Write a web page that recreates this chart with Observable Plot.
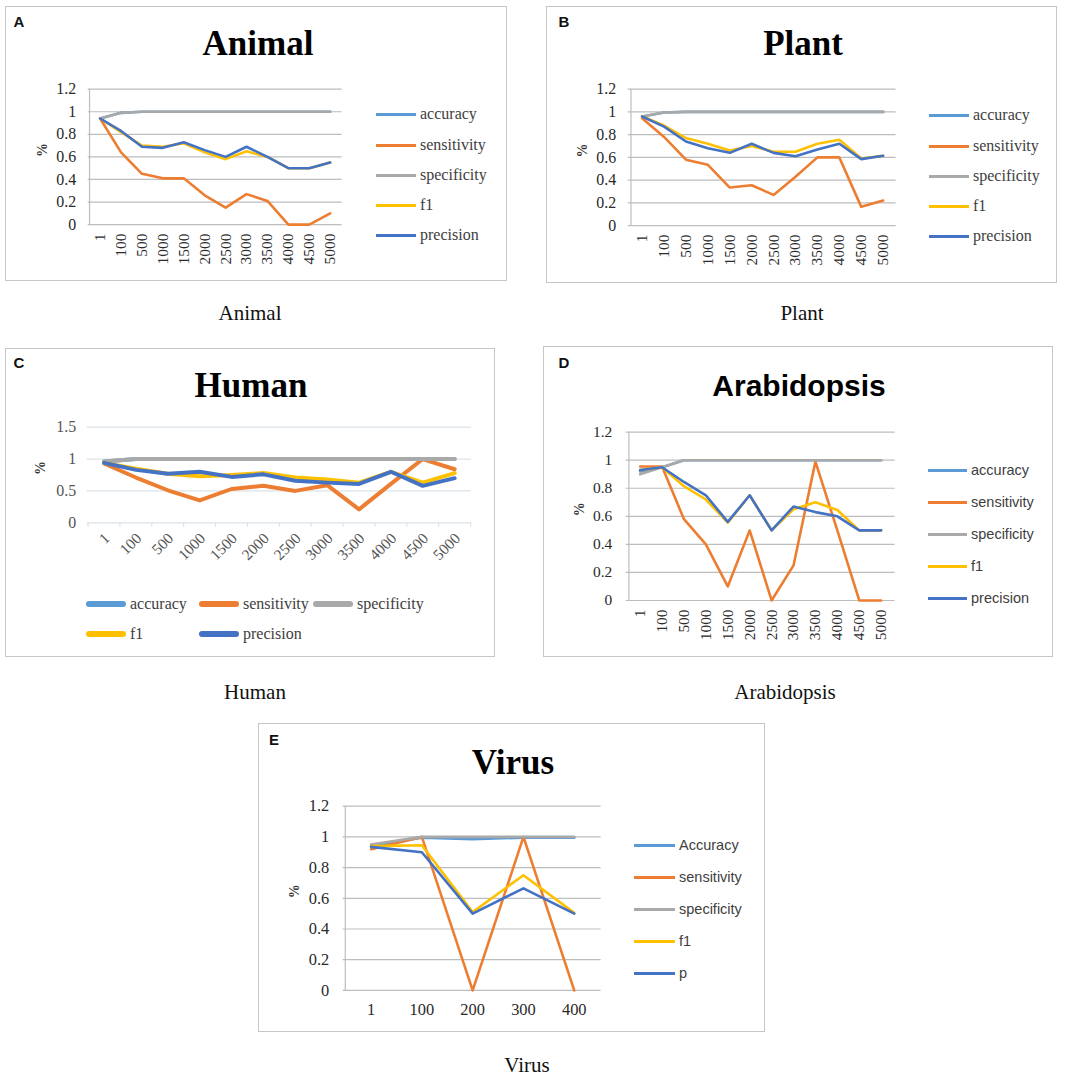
<!DOCTYPE html>
<html><head><meta charset="utf-8">
<script src="https://cdn.jsdelivr.net/npm/d3@7"></script>
<script src="https://cdn.jsdelivr.net/npm/@observablehq/plot@0.6"></script>
<style>
body{margin:0;background:#fff;width:1084px;height:1083px;position:relative;overflow:hidden;font-family:"Liberation Serif","Times New Roman",serif;}
.box{position:absolute;border:1px solid #c6c6c6;box-sizing:border-box;background:#fff;}
.box svg{position:absolute;left:-1px;top:-1px;overflow:visible}
.lab{position:absolute;font:bold 15px "Liberation Sans",Arial,sans-serif;transform:translate(-50%,-50%);color:#111}
.title{position:absolute;font:bold 35px "Liberation Serif","Times New Roman",serif;transform:translate(-50%,-50%);white-space:nowrap;color:#000}
.title.sans{font:bold 30px "Liberation Sans",Arial,sans-serif}
.cap{position:absolute;font:21px "Liberation Serif","Times New Roman",serif;transform:translate(-50%,-50%);white-space:nowrap;color:#111}
.leg{position:absolute;transform:translateY(-50%);white-space:nowrap;display:flex;align-items:center;color:#404040;font:16px "Liberation Serif","Times New Roman",serif}
.leg.sans{font:14.5px "Liberation Sans",Arial,sans-serif}
.leg .sw{display:inline-block;height:3px;margin-right:4px}
.leg .sw.thick{height:6px;border-radius:3px}
</style>
</head><body>
<script>
// ---------- data ----------
const cats = ["1","100","500","1000","1500","2000","2500","3000","3500","4000","4500","5000"];
const virusCats = ["1","100","200","300","400"];
const seriesNames = ["accuracy","sensitivity","specificity","f1","precision"];
const virusSeriesNames = ["Accuracy","sensitivity","specificity","f1","p"];
const seriesColors = ["#5b9bd5","#ed7d31","#a9a9a9","#ffc000","#4472c4"];
const ticks12 = [0,0.2,0.4,0.6,0.8,1,1.2];
const ticks15 = [0,0.5,1,1.5];

const animalAccuracy    = [0.94,0.99,1,1,1,1,1,1,1,1,1,1];
const animalSensitivity = [0.94,0.64,0.45,0.41,0.41,0.26,0.15,0.27,0.21,0,0,0.10];
const animalSpecificity = [0.94,0.99,1,1,1,1,1,1,1,1,1,1];
const animalF1          = [0.94,0.82,0.70,0.69,0.72,0.64,0.58,0.65,0.60,0.50,0.50,0.55];
const animalPrecision   = [0.94,0.83,0.69,0.68,0.73,0.66,0.60,0.69,0.60,0.50,0.50,0.55];

const plantAccuracy     = [0.96,0.995,1,1,1,1,1,1,1,1,1,1];
const plantSensitivity  = [0.945,0.78,0.58,0.535,0.335,0.355,0.27,0.43,0.60,0.60,0.165,0.22];
const plantSpecificity  = [0.96,0.995,1,1,1,1,1,1,1,1,1,1];
const plantF1           = [0.96,0.88,0.77,0.72,0.66,0.70,0.65,0.65,0.72,0.755,0.59,0.615];
const plantPrecision    = [0.96,0.87,0.74,0.68,0.64,0.72,0.64,0.61,0.67,0.72,0.585,0.615];

const humanAccuracy     = [0.96,1,1,1,1,1,1,1,1,1,1,1];
const humanSensitivity  = [0.93,0.71,0.51,0.35,0.53,0.58,0.50,0.59,0.21,0.61,1.0,0.84];
const humanSpecificity  = [0.96,1,1,1,1,1,1,1,1,1,1,1];
const humanF1           = [0.94,0.85,0.77,0.73,0.75,0.78,0.71,0.68,0.63,0.80,0.63,0.78];
const humanPrecision    = [0.94,0.83,0.77,0.80,0.72,0.76,0.66,0.63,0.61,0.80,0.58,0.70];

const arabAccuracy      = [0.92,0.95,1,1,1,1,1,1,1,1,1,1];
const arabSensitivity   = [0.955,0.955,0.58,0.40,0.10,0.50,0,0.25,0.99,0.50,0,0];
const arabSpecificity   = [0.90,0.95,1,1,1,1,1,1,1,1,1,1];
const arabF1            = [0.93,0.95,0.815,0.72,0.555,0.75,0.50,0.65,0.70,0.645,0.50,0.50];
const arabPrecision     = [0.93,0.95,0.845,0.75,0.56,0.75,0.50,0.67,0.63,0.60,0.50,0.50];

const virusAccuracy     = [0.94,0.995,0.985,0.995,0.995];
const virusSensitivity  = [0.92,1,0,1,0];
const virusSpecificity  = [0.95,1,1,1,1];
const virusF1           = [0.94,0.945,0.51,0.75,0.505];
const virusP            = [0.935,0.90,0.50,0.665,0.50];

// ---------- helpers ----------
function el(cls, parent, css, text){
  const d = document.createElement("div");
  d.className = cls; Object.assign(d.style, css || {});
  if (text != null) d.textContent = text;
  parent.appendChild(d); return d;
}

function panel(o){
  const box = el("box", document.body, {left:o.left+"px", top:o.top+"px", width:o.w+"px", height:o.h+"px"});
  const rows = [];
  o.values.forEach((vals, s) => vals.forEach((v, i) => rows.push({cat:o.cats[i], value:v, series:o.names[s]})));
  const step = (o.w - o.mL - o.mR) / o.cats.length;
  const marks = [
    Plot.gridY(o.ticks, {stroke:o.gridColor, strokeOpacity:1, strokeWidth:1.2}),
  ];
  if (o.leftLine) marks.push(Plot.ruleX([o.cats[0]], {dx:-step/2, y1:0, y2:o.ymax, stroke:o.gridColor, strokeWidth:1.2}));
  if (o.boundaryTicks) {
    marks.push(Plot.ruleX(o.cats, {dx:-step/2, y1:0, y2:-0.07, stroke:o.gridColor, strokeWidth:1.2}));
    marks.push(Plot.ruleX([o.cats[o.cats.length-1]], {dx:step/2, y1:0, y2:-0.07, stroke:o.gridColor, strokeWidth:1.2}));
  }
  marks.push(
    Plot.axisY({ticks:o.ticks, tickSize:0, tickPadding:o.yPad, tickFormat:d=>String(d), fontSize:o.yFont, fill:o.tickColor}),
    Plot.axisX({tickSize:0, tickPadding:o.xPad, tickRotate:o.rot, fontSize:o.xFont, fill:o.tickColor, dx:o.xdx||0}),
    Plot.text(["%"], {frameAnchor:"left", dx:-o.pctDx, rotate:-90, fontWeight:"bold", fontSize:14, fill:"#333"}),
    Plot.line(rows, {x:"cat", y:"value", z:"series", stroke:"series", strokeWidth:o.lw, strokeLinejoin:"round", strokeLinecap:"round"})
  );
  const svg = Plot.plot({
    width:o.w, height:o.h, marginLeft:o.mL, marginRight:o.mR, marginTop:o.mT, marginBottom:o.mB,
    style:{background:"transparent", fontFamily:'"Liberation Serif","Times New Roman",serif', color:"#333", overflow:"visible"},
    x:{type:"point", domain:o.cats, padding:0.5, label:null},
    y:{domain:[0,o.ymax], label:null},
    color:{domain:o.names, range:seriesColors},
    marks
  });
  box.appendChild(svg);
  el("lab", box, {left:o.labX+"px", top:o.labY+"px"}, o.label);
  el("title"+(o.sansTitle?" sans":""), box, {left:o.titleX+"px", top:o.titleY+"px"}, o.title);
  // legend
  o.legend.forEach((it, k) => {
    const d = el("leg"+(o.sansLegend?" sans":""), box, {left:it[0]+"px", top:it[1]+"px"});
    const sw = document.createElement("span");
    sw.className = "sw" + (o.thickLegend ? " thick" : "");
    sw.style.width = o.swW + "px"; sw.style.background = seriesColors[k];
    d.appendChild(sw);
    const t = document.createElement("span"); t.textContent = o.names[k]; d.appendChild(t);
  });
  el("cap", document.body, {left:o.capX+"px", top:o.capY+"px"}, o.title);
}

const vertLegend = (x, ys) => ys.map(y => [x, y]);

// A Animal
panel({left:5, top:6, w:502, h:275, mL:83, mR:164, mT:83, mB:56,
  cats, names:seriesNames, values:[animalAccuracy,animalSensitivity,animalSpecificity,animalF1,animalPrecision],
  ticks:ticks12, ymax:1.2, gridColor:"#bdbdbd", leftLine:true, yPad:12, xPad:9, rot:-90, yFont:16, xFont:15.5,
  tickColor:"#2a2a2a", pctDx:46, lw:2.6, label:"A", labX:13, labY:14, title:"Animal", titleX:252, titleY:37,
  legend:vertLegend(370,[107,138,168,198,228]), swW:40, capX:250, capY:313});

// B Plant
panel({left:546, top:6, w:511, h:277, mL:82, mR:160, mT:83, mB:57,
  cats, names:seriesNames, values:[plantAccuracy,plantSensitivity,plantSpecificity,plantF1,plantPrecision],
  ticks:ticks12, ymax:1.2, gridColor:"#bdbdbd", leftLine:true, yPad:12, xPad:9, rot:-90, yFont:16, xFont:15.5,
  tickColor:"#2a2a2a", pctDx:46, lw:2.6, label:"B", labX:17, labY:14, title:"Plant", titleX:256, titleY:37,
  legend:vertLegend(382,[108,139,169,199,229]), swW:40, capX:802, capY:313});

// C Human
panel({left:5, top:348, w:490, h:309, mL:82, mR:22, mT:79, mB:134,
  cats, names:seriesNames, values:[humanAccuracy,humanSensitivity,humanSpecificity,humanF1,humanPrecision],
  ticks:ticks15, ymax:1.5, gridColor:"#dde3ea", leftLine:false, boundaryTicks:true, yPad:11, xPad:13, rot:-45, xdx:3, yFont:16, xFont:15.5,
  tickColor:"#555", pctDx:47, lw:4, label:"C", labX:13, labY:13, title:"Human", titleX:245, titleY:37,
  legend:[[80,255],[193,255],[307,255],[80,285],[193,285]], swW:40, thickLegend:true, capX:255, capY:692});

// D Arabidopsis
panel({left:543, top:346, w:510, h:311, mL:83, mR:157, mT:86, mB:56,
  cats, names:seriesNames, values:[arabAccuracy,arabSensitivity,arabSpecificity,arabF1,arabPrecision],
  ticks:ticks12, ymax:1.2, gridColor:"#bdbdbd", leftLine:true, yPad:14, xPad:9, rot:-90, yFont:15.5, xFont:15.5,
  tickColor:"#2a2a2a", pctDx:47, lw:2.6, label:"D", labX:20, labY:15, title:"Arabidopsis", titleX:255, titleY:39, sansTitle:true,
  legend:vertLegend(384,[123,155,187,219,251]), swW:39, sansLegend:true, capX:785, capY:692});

// E Virus
panel({left:258, top:723, w:507, h:309, mL:85, mR:163, mT:83, mB:41,
  cats:virusCats, names:virusSeriesNames, values:[virusAccuracy,virusSensitivity,virusSpecificity,virusF1,virusP],
  ticks:ticks12, ymax:1.2, gridColor:"#bdbdbd", leftLine:true, yPad:14, xPad:13, rot:0, yFont:16.5, xFont:16.5,
  tickColor:"#2a2a2a", pctDx:49, lw:2.6, label:"E", labX:15, labY:15, title:"Virus", titleX:254, titleY:39,
  legend:vertLegend(375,[121,153,185,217,249]), swW:41, sansLegend:true, capX:527, capY:1065});
</script>
</body></html>
